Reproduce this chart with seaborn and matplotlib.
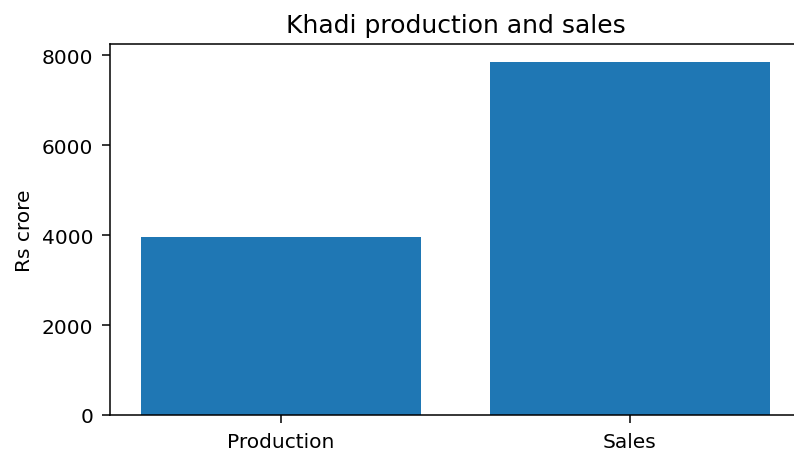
import matplotlib
matplotlib.use("Agg")
import matplotlib.pyplot as plt
import seaborn as sns
import pandas as pd

categories = ["Production", "Sales"]
values = [3960, 7860]
title = "Khadi production and sales"
ylabel = "Rs crore"

plt.rcParams['font.family'] = ['DejaVu Sans']

df = pd.DataFrame({"cat": categories, "val": values})
fig = plt.figure(figsize=(7.94, 4.52), dpi=100)
ax = fig.add_axes([110/794, 1-416/452, 691/794, 371/452])
sns.barplot(data=df, x="cat", y="val", color="#1f77b4", saturation=1, width=0.8, ax=ax, edgecolor="none")
ax.set_xlim(-0.49, 1.49)
ax.set_ylim(0, max(values) * 1.05)
ax.set_yticks([0, 2000, 4000, 6000, 8000])
fs = 14.5
ax.tick_params(labelsize=fs, length=6, width=1.1, colors="black", pad=6)
ax.set_xlabel("")
ax.set_ylabel(ylabel, fontsize=fs, color="black", labelpad=6)
ax.set_title(title, fontsize=18, pad=9, color="black")
for s in ax.spines.values():
    s.set_linewidth(1.1)
    s.set_color("black")
fig.savefig("out.png", dpi=100)
